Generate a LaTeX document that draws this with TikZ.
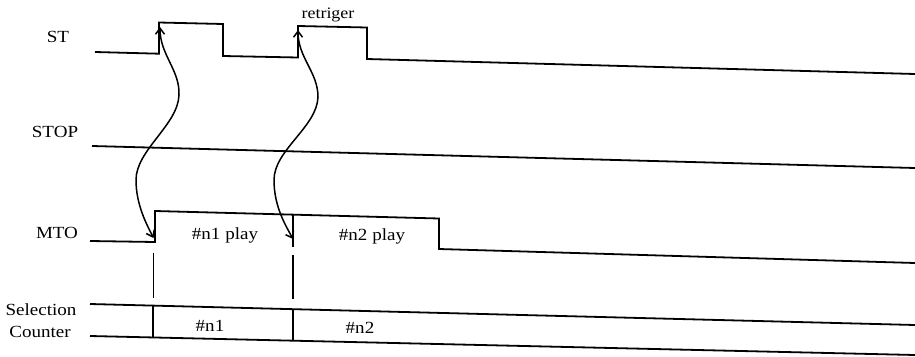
\documentclass[tikz,border=0pt]{standalone}
\usepackage{fontspec}
\setmainfont[FakeStretch=1.12]{Liberation Serif}
\usetikzlibrary{arrows.meta}
\begin{document}
\begin{tikzpicture}[x=1pt,y=-1pt,
  wave/.style={line width=1.8pt, line join=miter},
  lbl/.style={font=\fontsize{17}{19}\selectfont, inner sep=0pt, anchor=base},
  small/.style={font=\fontsize{16}{18}\selectfont, inner sep=0pt, anchor=base},
  trig/.style={line width=1.5pt, {Straight Barb[length=6pt,width=9pt]}-{Straight Barb[length=6pt,width=9pt]}}]
\path[use as bounding box] (0,0) rectangle (915,356);
% ST
\draw[wave] (95,52) -- (159,53.7) -- (159,22.5) -- (223,24) -- (223,56) -- (298,57.5) -- (298,26) -- (367,27.5) -- (367,59) -- (915,74);
% STOP
\draw[wave] (92,146) -- (915,168);
% MTO
\draw[wave] (90,241) -- (155,242) -- (155,211) -- (439,218.5) -- (439,249) -- (915,263);
\draw[wave] (293,214.5) -- (293,247);
\draw[wave] (153.5,253) -- (153.5,298);
\draw[wave] (293,255) -- (293,299);
% Selection counter
\draw[wave] (90,304) -- (915,325);
\draw[wave] (90,336) -- (915,355);
\draw[wave] (153,305.5) -- (153,337.5);
\draw[wave] (293,309) -- (293,340);
% labels
\node[lbl] (st) at (58,42) {ST};
\node[lbl] (stop) at (55,137) {STOP};
\node[lbl] (mto) at (57,238) {MTO};
\node[lbl] (sel) at (41,315) {Selection};
\node[lbl] (cnt) at (40,337) {Counter};
\node[small] (retr) at (328,18) {retriger};
\node[lbl] (p1) at (225,239) {\#n1 play};
\node[lbl] (p2) at (372,240) {\#n2 play};
\node[lbl] (c1) at (210,331) {\#n1};
\node[lbl] (c2) at (360,333) {\#n2};
% trigger arrows
\coordinate (a1) at (160,27);
\coordinate (b1) at (153.5,238);
\coordinate (a2) at (298,30);
\coordinate (b2) at (293,239);
\draw[trig] (a1) .. controls (160,55) and (180,70) .. (179,95) .. controls (178,125) and (136,150) .. (136,180) .. controls (136,205) and (147,225) .. (b1);
\draw[trig] (a2) .. controls (298,58) and (318,72) .. (318,97) .. controls (317,127) and (274,150) .. (274,180) .. controls (274,207) and (286,226) .. (b2);
\end{tikzpicture}
\end{document}
